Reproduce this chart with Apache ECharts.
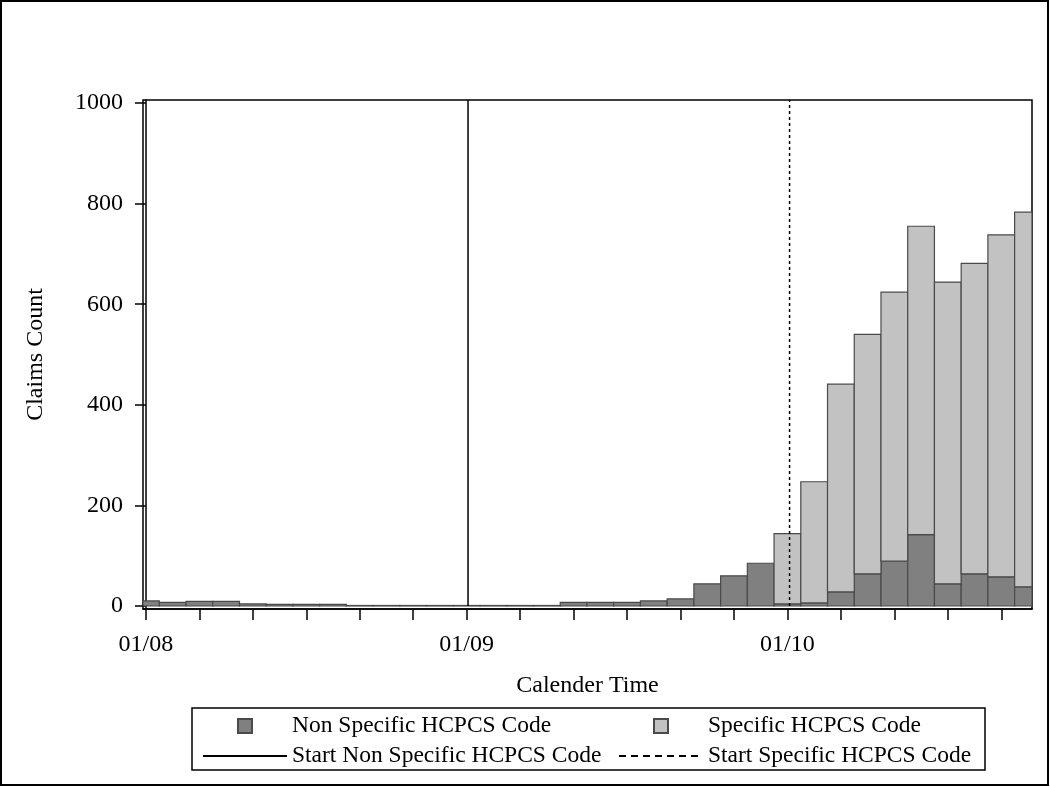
<!DOCTYPE html>
<html>
<head>
<meta charset="utf-8">
<script src="https://cdn.jsdelivr.net/npm/echarts@6/dist/echarts.min.js"></script>
<style>
  html, body { margin: 0; padding: 0; background: #fff; }
  #chart { width: 1050px; height: 787px; }
</style>
</head>
<body>
<div id="chart"></div>
<script>
// months from 01/08 (index 0) to 10/10 (index 33)
const months = ['01/08', '02/08', '03/08', '04/08', '05/08', '06/08', '07/08', '08/08', '09/08', '10/08', '11/08', '12/08',
  '01/09', '02/09', '03/09', '04/09', '05/09', '06/09', '07/09', '08/09', '09/09', '10/09', '11/09', '12/09',
  '01/10', '02/10', '03/10', '04/10', '05/10', '06/10', '07/10', '08/10', '09/10', '10/10']
const nonSpecific = [10, 7, 9, 9, 4, 3, 3, 3, 1, 1, 1, 1, 1, 1, 1, 1, 7, 7, 7, 10, 14, 44, 60, 85,
  4, 6, 28, 64, 89, 142, 44, 64, 58, 38]
const specific = [0, 0, 0, 0, 0, 0, 0, 0, 0, 0, 0, 0, 0, 0, 0, 0, 0, 0, 0, 0, 0, 0, 0, 0,
  140, 241, 413, 476, 535, 613, 600, 617, 680, 745]
const yTicks = [0, 200, 400, 600, 800, 1000]
const xTicks = [0, 2, 4, 6, 8, 10, 12, 14, 16, 18, 20, 22, 24, 26, 28, 30, 32]
const xLabels = [0, 12, 24]
const startNonSpecific = 12.05 // 01/09
const startSpecific = 24.08 // 01/10

const yMin = -6
const yMax = 1006
const serif = 'Liberation Serif'

// stacked monthly bars: [month, bottom, top]
const darkData = nonSpecific.map((v, i) => [i, 0, v])
const lightData = specific.map((v, i) => [i, nonSpecific[i], nonSpecific[i] + v])

// one bar per month, cut at the plot edges
function renderBar(params, api) {
  const lo = api.value(1)
  const hi = api.value(2)
  if (hi <= lo) return null
  const i = api.value(0)
  const p0 = api.coord([i - 0.5, lo])
  const p1 = api.coord([i + 0.5, hi])
  const cs = params.coordSys
  const x0 = Math.max(p0[0], cs.x)
  const x1 = Math.min(p1[0], cs.x + cs.width)
  return {
    type: 'rect',
    shape: { x: x0, y: p1[1], width: x1 - x0, height: p0[1] - p1[1] },
    style: api.style()
  }
}

const chart = echarts.init(document.getElementById('chart'))

const legendBase = {
  top: 709,
  orient: 'vertical',
  itemWidth: 84,
  itemHeight: 14,
  itemGap: 6,
  textStyle: { fontFamily: serif, fontSize: 23.5, color: '#000', lineHeight: 23 }
}

chart.setOption({
  animation: false,
  backgroundColor: '#fff',
  textStyle: { fontFamily: serif, color: '#000' },
  grid: {
    left: 143,
    right: 18,
    top: 100,
    bottom: 178,
    show: true,
    borderColor: '#000',
    borderWidth: 1.5
  },
  xAxis: {
    type: 'value',
    min: -0.11,
    max: 33.15,
    name: 'Calender Time',
    nameLocation: 'middle',
    nameGap: 65,
    nameTextStyle: { fontFamily: serif, fontSize: 24, color: '#000' },
    axisLine: { onZero: false, lineStyle: { color: '#000', width: 1.5 } },
    axisTick: { customValues: xTicks, length: 11, lineStyle: { color: '#000', width: 1.5 } },
    axisLabel: {
      customValues: xLabels,
      margin: 24,
      fontFamily: serif,
      fontSize: 24,
      color: '#000',
      formatter: v => months[Math.round(v)]
    },
    splitLine: { show: false }
  },
  yAxis: {
    type: 'value',
    min: yMin,
    max: yMax,
    name: 'Claims Count',
    nameLocation: 'middle',
    nameGap: 95,
    nameTextStyle: { fontFamily: serif, fontSize: 24, color: '#000' },
    axisLine: { lineStyle: { color: '#000', width: 1.5 } },
    axisTick: { customValues: yTicks, length: 11, lineStyle: { color: '#000', width: 1.5 } },
    axisLabel: {
      customValues: yTicks,
      margin: 20,
      fontFamily: serif,
      fontSize: 24,
      color: '#000',
      formatter: v => String(v)
    },
    splitLine: { show: false }
  },
  legend: [Object.assign({}, legendBase, {
    left: 197,
    data: [
      { name: 'Non Specific HCPCS Code', icon: 'path://M0,0H10V10H0Z' },
      { name: 'Start Non Specific HCPCS Code', itemStyle: { opacity: 0 } }
    ]
  }), Object.assign({}, legendBase, {
    left: 613,
    data: [
      { name: 'Specific HCPCS Code', icon: 'path://M0,0H10V10H0Z' },
      { name: 'Start Specific HCPCS Code', itemStyle: { opacity: 0 }, lineStyle: { type: [7, 5] } }
    ]
  })],
  graphic: [{
    type: 'rect',
    shape: { x: 192, y: 708, width: 793, height: 62 },
    style: { fill: 'none', stroke: '#000', lineWidth: 1.5 },
    silent: true
  }, {
    type: 'rect',
    shape: { x: 1, y: 1, width: 1047, height: 784 },
    style: { fill: 'none', stroke: '#000', lineWidth: 2 },
    silent: true
  }],
  series: [{
    name: 'Non Specific HCPCS Code',
    type: 'custom',
    renderItem: renderBar,
    encode: { x: 0, y: 2 },
    clip: true,
    data: darkData,
    itemStyle: { color: '#808080', borderColor: '#4a4a4a', borderWidth: 1.2 }
  }, {
    name: 'Specific HCPCS Code',
    type: 'custom',
    renderItem: renderBar,
    encode: { x: 0, y: 2 },
    clip: true,
    data: lightData,
    itemStyle: { color: '#c2c2c2', borderColor: '#4a4a4a', borderWidth: 1.2 }
  }, {
    name: 'Start Non Specific HCPCS Code',
    type: 'line',
    symbol: 'none',
    clip: true,
    data: [[startNonSpecific, 0], [startNonSpecific, yMax]],
    lineStyle: { color: '#000', width: 1.5, type: 'solid' },
    itemStyle: { color: '#000' }
  }, {
    name: 'Start Specific HCPCS Code',
    type: 'line',
    symbol: 'none',
    clip: true,
    data: [[startSpecific, 0], [startSpecific, yMax]],
    lineStyle: { color: '#000', width: 1.5, type: [3, 3] },
    itemStyle: { color: '#000' }
  }]
})
</script>
</body>
</html>
